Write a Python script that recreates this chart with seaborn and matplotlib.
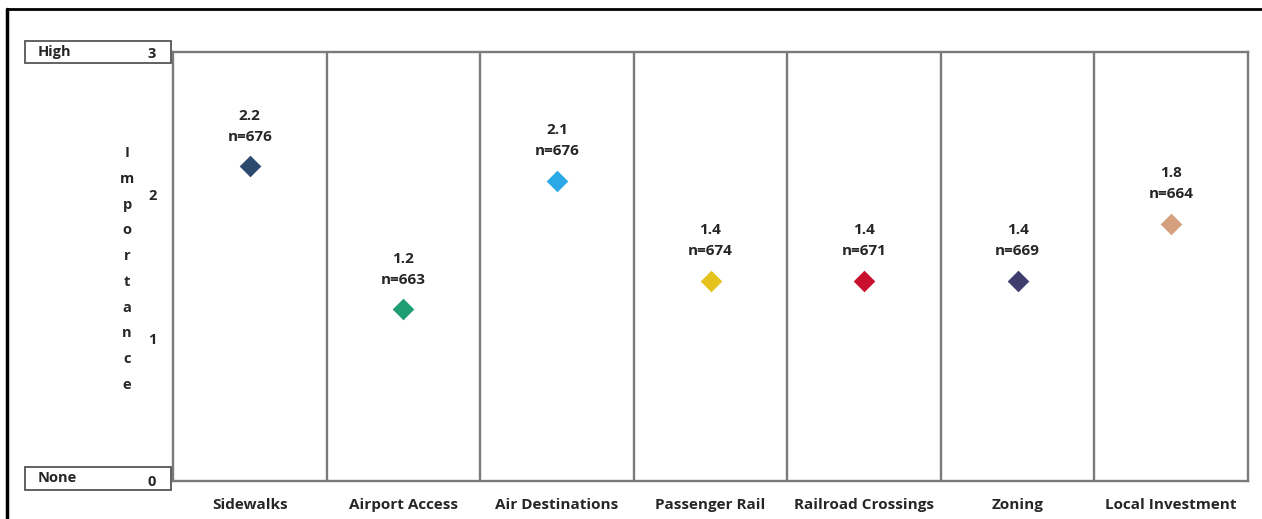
import matplotlib
matplotlib.use("Agg")
import matplotlib.pyplot as plt
from matplotlib.patches import Rectangle
from matplotlib.lines import Line2D
import seaborn as sns
import pandas as pd

categories = ["Sidewalks", "Airport Access", "Air Destinations", "Passenger Rail",
              "Railroad Crossings", "Zoning", "Local Investment"]
importance = [2.2, 1.2, 2.1, 1.4, 1.4, 1.4, 1.8]
respondents = [676, 663, 676, 674, 671, 669, 664]
colors = ["#2C4A6E", "#1E9E72", "#2AA9E6", "#E6C21C", "#C8102E", "#3F3E6C", "#D4A07E"]
y_ticks = [0, 1, 2, 3]
y_ticklabels = ["0", "1", "2", "3"]

df = pd.DataFrame({"category": categories, "importance": importance, "n": respondents})

sns.set_style("white")
plt.rcParams["font.family"] = ["Open Sans", "DejaVu Sans"]

W, H = 1262, 519
fig = plt.figure(figsize=(W / 100, H / 100), dpi=100)
ax = fig.add_axes([173 / W, 1 - 481 / H, (1248 - 173) / W, (481 - 52) / H])

sns.stripplot(data=df, x="category", y="importance", hue="category",
              palette=colors, marker="D", size=11, jitter=False,
              linewidth=0, legend=False, ax=ax, zorder=3)

text_color = "#262626"
for i, (v, n) in enumerate(zip(importance, respondents)):
    ax.annotate(f"{v:.1f}", xy=(i, v), xytext=(0, 36.5),
                textcoords="offset points", ha="center", va="center",
                fontsize=11, fontweight="bold", color=text_color)
    ax.annotate(f"n={n}", xy=(i, v), xytext=(0, 21.5),
                textcoords="offset points", ha="center", va="center",
                fontsize=11, fontweight="bold", color=text_color)

ax.set_xlim(-0.5, len(categories) - 0.5)
ax.set_ylim(0, 3)
ax.set_yticks(y_ticks)
ax.set_yticklabels(y_ticklabels, fontsize=10.5, fontweight="bold", color=text_color)
ax.set_xlabel("")
ax.set_ylabel("")

# category separators
ax.set_xticks([i + 0.5 for i in range(-1, len(categories))], minor=True)
ax.tick_params(axis="x", which="major", length=0, pad=12, labelsize=11, labelcolor=text_color)
ax.tick_params(axis="x", which="minor", length=6, width=1.5, color="#7A7A7A", direction="out")
ax.tick_params(axis="y", which="major", length=6, width=1, color="#7A7A7A", pad=6)
for lbl in ax.get_xticklabels():
    lbl.set_fontweight("bold")
ax.grid(False)
for i in range(1, len(categories)):
    ax.axvline(i - 0.5, color="#7A7A7A", lw=1.7, zorder=1)

for side, sp in ax.spines.items():
    sp.set_visible(True)
    sp.set_color("#7A7A7A")
    sp.set_linewidth(1.7)

# level boxes for the scale ends
for top, bottom, word in [(41, 63, "High"), (467, 490, "None")]:
    fig.add_artist(Rectangle((25 / W, 1 - bottom / H), (171 - 25) / W, (bottom - top) / H,
                             transform=fig.transFigure, fill=False,
                             edgecolor="#555555", lw=1.3))
    fig.text(38 / W, 1 - (top + bottom) / 2 / H, word, ha="left", va="center",
             fontsize=10.5, fontweight="bold", color=text_color)

# vertical axis title, one letter per line
title = "Importance"
y0, y1 = 153, 385
for k, ch in enumerate(title):
    yy = y0 + (y1 - y0) * k / (len(title) - 1)
    fig.text(127 / W, 1 - yy / H, ch.lower() if k else ch, ha="center", va="center",
             fontsize=10.5, fontweight="bold", color=text_color)

# outer frame
fig.add_artist(Line2D([7 / W, 1], [1 - 9 / H, 1 - 9 / H], transform=fig.transFigure,
                      color="black", lw=2))
fig.add_artist(Line2D([7 / W, 7 / W], [0, 1 - 9 / H], transform=fig.transFigure,
                      color="black", lw=2.5))

fig.savefig("out.png", dpi=100, facecolor="white")
